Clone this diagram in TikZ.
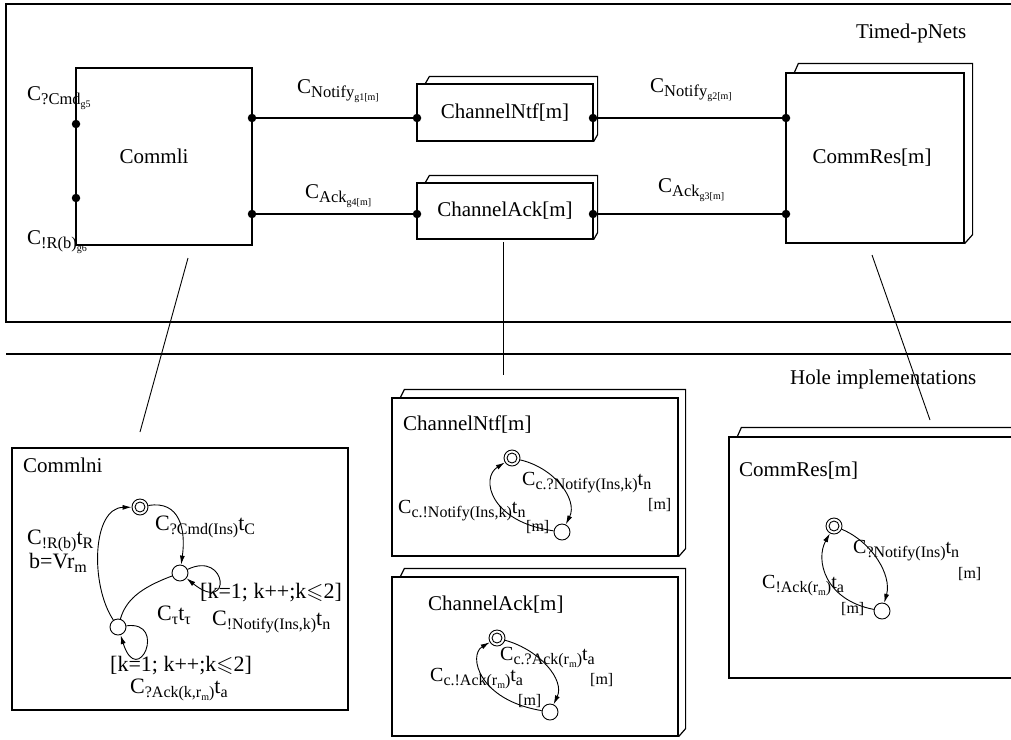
\documentclass[tikz,border=0pt]{standalone}
\usepackage{fontspec}
\setmainfont{Liberation Serif}
\usepackage{amssymb}
\usetikzlibrary{arrows.meta}
\newcommand\subA[2][16]{\raisebox{-4.5pt}{\fontsize{#1}{#1}\selectfont #2}}
\newcommand\subB[1]{\raisebox{-3pt}{\fontsize{10}{10}\selectfont #1}}
\newcommand\stackbox[3]{\draw[boxline] ([xshift=9pt]#1.north west) -- ([xshift=13pt,yshift=#3]#1.north west) -- ([xshift=#2,yshift=#3]#1.north east) -- ([xshift=#2,yshift=#3]#1.south east) -- (#1.south east);}
\tikzset{
  boxline/.style={line width=1.2pt},
  box/.style={draw, fill=white, line width=1.2pt, inner sep=0pt, font=\fontsize{21}{25}\selectfont},
  lbl/.style={inner sep=0pt, anchor=base west, font=\fontsize{21}{25}\selectfont},
  albl/.style={inner sep=0pt, anchor=base west, font=\fontsize{20}{24}\selectfont},
  st/.style={circle, draw, line width=0.9pt, minimum size=16pt, inner sep=0pt, fill=white},
  ist/.style={st, path picture={\draw[line width=0.9pt] (path picture bounding box.center) circle (5pt);}},
  trans/.style={line width=0.9pt, -{Latex[length=9pt,width=5pt]}},
  plain/.style={line width=0.9pt},
  port/.style={circle, fill, inner sep=0pt, minimum size=8.5pt},
  conn/.style={line width=1.2pt}
}
\begin{document}
\begin{tikzpicture}[x=1pt,y=-1pt]
\useasboundingbox (0,0) rectangle (1011,739);
% frames
\draw[boxline] (1020,4) -- (6,4) -- (6,322) -- (1020,322);
\draw[boxline] (6,354) -- (1020,354);
\node[lbl] (tp) at (856,38) {Timed-pNets};
\node[lbl] (hi) at (790,384) {Hole implementations};
% top boxes
\node[box, minimum width=176pt, minimum height=177pt] (commli) at (164,156.5) {\hspace*{-20pt}Commli};
\node[box, minimum width=176pt, minimum height=57pt] (ntf) at (505,112.5) {ChannelNtf[m]};
\stackbox{ntf}{4pt}{7pt}
\node[box, minimum width=176pt, minimum height=56pt] (ack) at (505,211) {ChannelAck[m]};
\stackbox{ack}{4pt}{7pt}
\node[box, minimum width=178pt, minimum height=170pt] (res) at (875,158) {\hspace*{-6pt}CommRes[m]};
\stackbox{res}{8pt}{9pt}
% ports
\node[port] (pl1) at (76,124) {};
\node[port] (pl2) at (76,198) {};
\node[port] (pr1) at (252,118) {};
\node[port] (pr2) at (252,214) {};
\node[port] (n1) at (417,118) {};
\node[port] (n2) at (593,118) {};
\node[port] (k1) at (417,214) {};
\node[port] (k2) at (593,214) {};
\node[port] (r1) at (786,118) {};
\node[port] (r2) at (786,214) {};
\draw[conn] (pr1) -- (n1);
\draw[conn] (n2) -- (r1);
\draw[conn] (pr2) -- (k1);
\draw[conn] (k2) -- (r2);
% top labels
\node[lbl] (g5) at (27,100) {C\subA[16.5]{?Cmd\subB{g5}}};
\node[lbl] (g6) at (27,244) {C\subA[16.5]{!R(b)\subB{g6}}};
\node[lbl] (g1) at (297,93) {C\subA[16.5]{Notify\subB{g1[m]}}};
\node[lbl] (g4) at (305,198) {C\subA[16.5]{Ack\subB{g4[m]}}};
\node[lbl] (g2) at (650,92) {C\subA[16.5]{Notify\subB{g2[m]}}};
\node[lbl] (g3) at (658,192) {C\subA[16.5]{Ack\subB{g3[m]}}};
% lower boxes
\node[box, minimum width=336pt, minimum height=262pt] (ini) at (180,579) {};
\node[box, minimum width=286pt, minimum height=158pt] (lntf) at (535,477) {};
\stackbox{lntf}{7pt}{8pt}
\node[box, minimum width=286pt, minimum height=159pt] (lack) at (535,656.5) {};
\stackbox{lack}{7pt}{8pt}
\node[box, minimum width=301pt, minimum height=241pt] (lres) at (879.5,557.5) {};
\stackbox{lres}{7pt}{9pt}
\node[lbl] (tini) at (23,472) {Commlni};
\node[lbl] (tntf) at (403,430) {ChannelNtf[m]};
\node[lbl] (tack) at (428,610) {ChannelAck[m]};
\node[lbl] (tres) at (739,476) {CommRes[m]};
% connectors top to bottom
\coordinate (l1a) at (188,258); \coordinate (l1b) at (140,432);
\coordinate (l2a) at (503,242); \coordinate (l2b) at (503,375);
\coordinate (l3a) at (872,255); \coordinate (l3b) at (930,420);
\draw[plain] (l1a) -- (l1b);
\draw[plain] (l2a) -- (l2b);
\draw[plain] (l3a) -- (l3b);
% CommIni automaton
\node[ist] (a0) at (140,507) {};
\node[st] (a1) at (180,573) {};
\node[st] (a2) at (118,627) {};
\draw[trans] (a2) .. controls (90,585) and (92,508) .. (a0);
\draw[trans] (a0) .. controls (180,500) and (186,530) .. (a1);
\draw[plain] (a1) .. controls (140,588) and (126,600) .. (a2);
\draw[trans] (a1) .. controls (228,550) and (232,615) .. (a1);
\draw[trans] (a2) .. controls (168,620) and (138,690) .. (a2);
\node[albl, font=\fontsize{22}{26}\selectfont] (e1) at (27,544) {C\subA{!R(b)}t\subA{R}};
\node[albl, font=\fontsize{22}{26}\selectfont, anchor=base] (e2) at (58,568) {b=Vr\subA{m}};
\node[albl, font=\fontsize{22}{26}\selectfont] (e3) at (155,530) {C\subA{?Cmd(Ins)}t\subA{C}};
\node[albl, font=\fontsize{22}{26}\selectfont] (e4) at (200,598) {[k=1; k++;k$\leqslant$2]};
\node[albl, font=\fontsize{22}{26}\selectfont] (e5) at (157,620) {C\subA{τ}t\subA{τ}};
\node[albl, font=\fontsize{22}{26}\selectfont] (e6) at (212,625) {C\subA{!Notify(Ins,k)}t\subA{n}};
\node[albl, font=\fontsize{22}{26}\selectfont] (e7) at (110,671) {[k=1; k++;k$\leqslant$2]};
\node[albl, font=\fontsize{22}{26}\selectfont] (e8) at (130,693) {C\subA{?Ack(k,r\subB{m})}t\subA{a}};
% ChannelNtf automaton
\node[ist] (b0) at (512,458) {};
\node[st] (b1) at (562,532) {};
\draw[trans] (b0) .. controls (555,468) and (578,500) .. (b1);
\draw[trans] (b1) .. controls (490,522) and (480,478) .. (b0);
\node[albl] (f1) at (522,485) {C\subA{c.?Notify(Ins,k)}t\subA{n}};
\node[albl, font=\fontsize{16}{18}\selectfont] (f2) at (648,509) {[m]};
\node[albl] (f3) at (398,513) {C\subA{c.!Notify(Ins,k)}t\subA{n}};
\node[albl, font=\fontsize{16}{18}\selectfont] (f4) at (526,531) {[m]};
% ChannelAck automaton
\node[ist] (c0) at (497,638) {};
\node[st] (c1) at (550,712) {};
\draw[trans] (c0) .. controls (540,650) and (565,680) .. (c1);
\draw[trans] (c1) .. controls (478,700) and (468,655) .. (c0);
\node[albl] (h1) at (500,660) {C\subA{c.?Ack(r\subB{m})}t\subA{a}};
\node[albl, font=\fontsize{16}{18}\selectfont] (h2) at (590,684) {[m]};
\node[albl] (h3) at (430,681) {C\subA{c.!Ack(r\subB{m})}t\subA{a}};
\node[albl, font=\fontsize{16}{18}\selectfont] (h4) at (518,705) {[m]};
% CommRes automaton
\node[ist] (d0) at (834,526) {};
\node[st] (d1) at (882,611) {};
\draw[trans] (d0) .. controls (872,542) and (892,575) .. (d1);
\draw[trans] (d1) .. controls (825,600) and (815,560) .. (d0);
\node[albl] (j1) at (853,553) {C\subA{?Notify(Ins)}t\subA{n}};
\node[albl, font=\fontsize{16}{18}\selectfont] (j2) at (958,578) {[m]};
\node[albl] (j3) at (762,588) {C\subA{!Ack(r\subB{m})}t\subA{a}};
\node[albl, font=\fontsize{16}{18}\selectfont] (j4) at (841,613) {[m]};
\end{tikzpicture}
\end{document}
